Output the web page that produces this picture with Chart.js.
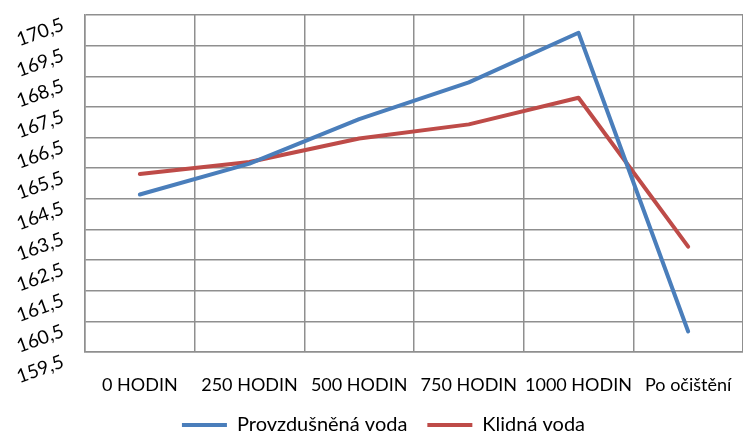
<!DOCTYPE html>
<html>
<head>
<meta charset="utf-8">
<script src="https://cdn.jsdelivr.net/npm/chart.js@4.4.1/dist/chart.umd.min.js"></script>
<style>
  html, body { margin: 0; padding: 0; background: #fff; }
</style>
</head>
<body>
<canvas id="chart" width="743" height="432"></canvas>
<script>
const categories = ["0 HODIN", "250 HODIN", "500 HODIN", "750 HODIN", "1000 HODIN", "Po očištění"];
const provzdusnenaVoda = [164.64, 165.65, 167.1, 168.3, 169.92, 160.17];
const klidnaVoda = [165.31, 165.7, 166.47, 166.93, 167.8, 162.94];
const yMin = 159.5;
const yMax = 170.5;
const yStep = 1;

const gridColor = "#8f8f8f";
const labelFont = { family: "Lato", size: 18 };

// legend sits a little right of centre in the original
const legendNudge = {
    id: "legendNudge",
    afterLayout(chart) {
        chart.legend.left += 11;
        chart.legend.right += 11;
    }
};

new Chart(document.getElementById("chart"), {
    type: "line",
    data: {
        labels: categories,
        datasets: [
            {
                label: "Provzdušněná voda",
                data: provzdusnenaVoda,
                borderColor: "#4a7ebb",
                backgroundColor: "#4a7ebb",
                borderWidth: 4,
                borderCapStyle: "round",
                borderJoinStyle: "round",
                pointRadius: 0,
                tension: 0
            },
            {
                label: "Klidná voda",
                data: klidnaVoda,
                borderColor: "#be4b48",
                backgroundColor: "#be4b48",
                borderWidth: 4,
                borderCapStyle: "round",
                borderJoinStyle: "round",
                pointRadius: 0,
                tension: 0
            }
        ]
    },
    plugins: [legendNudge],
    options: {
        responsive: false,
        animation: false,
        layout: { padding: { top: 15, right: -2, left: 0, bottom: -13 } },
        plugins: {
            tooltip: { enabled: false },
            legend: {
                position: "bottom",
                labels: {
                    usePointStyle: true,
                    pointStyle: "line",
                    pointStyleWidth: 45,
                    padding: 20,
                    color: "#000",
                    font: { family: "Lato", size: 20 }
                }
            }
        },
        scales: {
            x: {
                offset: true,
                grid: { offset: true, color: gridColor, lineWidth: 1.5, drawTicks: false },
                border: { color: gridColor, width: 1.5 },
                ticks: {
                    padding: 22,
                    color: "#000",
                    font: labelFont,
                    maxRotation: 0,
                    autoSkip: false
                },
                afterFit: (scale) => {
                    scale.height = 43;
                    scale.paddingLeft = 0;
                    scale.paddingRight = 0;
                }
            },
            y: {
                min: yMin,
                max: yMax,
                grid: { color: gridColor, lineWidth: 1.5, drawTicks: false },
                border: { color: gridColor, width: 1.5 },
                ticks: {
                    stepSize: yStep,
                    minRotation: 20,
                    maxRotation: 20,
                    labelOffset: 9,
                    padding: 22,
                    color: "#000",
                    font: { family: "Lato", size: 19 },
                    callback: (v) => v.toFixed(1).replace(".", ",")
                },
                afterFit: (scale) => {
                    scale.width = 85;
                    scale.paddingTop = 0;
                    scale.paddingBottom = 0;
                }
            }
        }
    }
});
</script>
</body>
</html>
